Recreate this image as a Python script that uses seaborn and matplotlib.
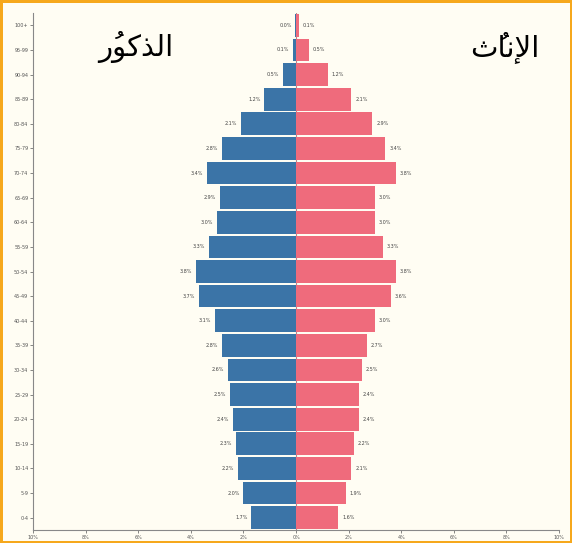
import matplotlib
matplotlib.use('Agg')
import matplotlib.pyplot as plt
import seaborn as sns
import pandas as pd

# Datos de la pirámide (porcentaje de la población)
ages = ['0-4', '5-9', '10-14', '15-19', '20-24', '25-29', '30-34', '35-39',
        '40-44', '45-49', '50-54', '55-59', '60-64', '65-69', '70-74',
        '75-79', '80-84', '85-89', '90-94', '95-99', '100+']
male = [1.7, 2.0, 2.2, 2.3, 2.4, 2.5, 2.6, 2.8, 3.1, 3.7, 3.8, 3.3, 3.0,
        2.9, 3.4, 2.8, 2.1, 1.2, 0.5, 0.1, 0.02]
female = [1.6, 1.9, 2.1, 2.2, 2.4, 2.4, 2.5, 2.7, 3.0, 3.6, 3.8, 3.3, 3.0,
          3.0, 3.8, 3.4, 2.9, 2.1, 1.2, 0.5, 0.1]
x_ticks = [-10, -8, -6, -4, -2, 0, 2, 4, 6, 8, 10]

# Títulos en árabe ya en formas de presentación (orden visual)
title_male = '\uFEAD\u064F\uFEEE\uFEDB\uFEAC\uFEDF\uFE8D'   # الذكورُ
title_female = '\uFE99\u064F\uFE8E\uFEE7\uFEF9\uFE8D'        # الإناثُ

df = pd.DataFrame({'age': ages, 'male': [-v for v in male], 'female': female})
order = ages[::-1]

bg = '#fffdf3'
fig = plt.figure(figsize=(5.72, 5.43), dpi=100, facecolor=bg,
                 edgecolor='#f6a81c', linewidth=2.5)
ax = fig.add_axes([0.058, 0.024, 0.919, 0.952])
ax.set_facecolor(bg)

sns.barplot(data=df, x='male', y='age', order=order, color='#3b74a7',
            orient='h', width=0.92, edgecolor='none', saturation=1, ax=ax)
sns.barplot(data=df, x='female', y='age', order=order, color='#ef6b7c',
            orient='h', width=0.92, edgecolor='none', saturation=1, ax=ax)

# Etiquetas de cada barra
for i, a in enumerate(order):
    m = male[ages.index(a)]
    f = female[ages.index(a)]
    ax.text(-m - 0.15, i, f'{m:.1f}%', ha='right', va='center',
            fontsize=3.5, color='#444444')
    ax.text(f + 0.15, i, f'{f:.1f}%', ha='left', va='center',
            fontsize=3.5, color='#444444')

ax.axvline(0, color='#b08890', linewidth=0.8, zorder=0)
ax.set_xlim(-10, 10)
ax.set_ylim(20.5, -0.5)
ax.set_xticks(x_ticks)
ax.set_xticklabels([f'{abs(t)}%' for t in x_ticks])
ax.tick_params(axis='both', labelsize=3.5, colors='#555555', length=2,
               width=0.5, pad=1.5)
ax.set_xlabel('')
ax.set_ylabel('')
for s in ['top', 'right']:
    ax.spines[s].set_visible(False)
for s in ['left', 'bottom']:
    ax.spines[s].set_color('#888888')
    ax.spines[s].set_linewidth(0.8)

fig.text(0.237, 0.913, title_male, fontsize=21, family='DejaVu Sans',
         ha='center', va='center', color='black')
fig.text(0.883, 0.913, title_female, fontsize=21, family='DejaVu Sans',
         ha='center', va='center', color='black')

fig.savefig('out.png', dpi=100, facecolor=fig.get_facecolor(),
            edgecolor=fig.get_edgecolor())
